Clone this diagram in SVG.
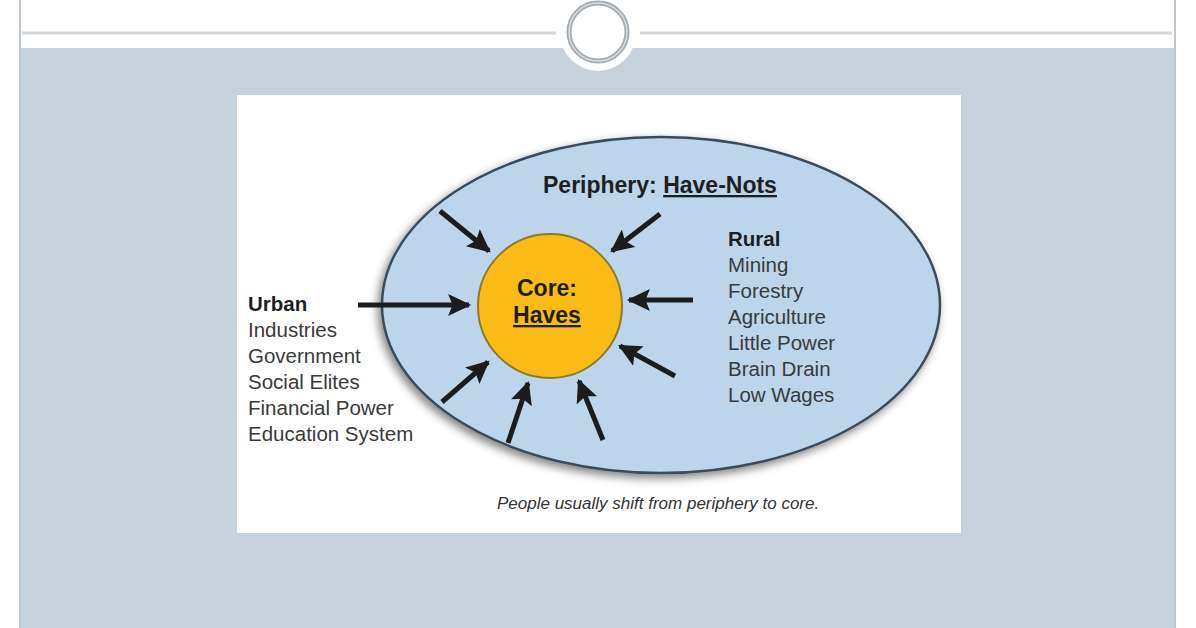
<svg xmlns="http://www.w3.org/2000/svg" width="1196" height="628" viewBox="0 0 1196 628">
<defs>
<style>
.t{font-family:"Liberation Sans","Open Sans",Arial,sans-serif;fill:#3a3a3a;font-size:20.5px}
.b{font-weight:bold;fill:#1f1f1f}
.big{font-size:23px}
.cap{font-size:17px;font-style:italic;fill:#333333}
.arr{stroke:#1c1c1c;stroke-width:5;fill:none;marker-end:url(#ah)}
</style>
<marker id="ah" markerUnits="userSpaceOnUse" markerWidth="24" markerHeight="22" refX="19" refY="10" orient="auto" viewBox="0 0 21 20">
<path d="M0,0 L21,10 L0,20 L4,10 Z" fill="#1c1c1c"/>
</marker>
<filter id="sh" x="-10%" y="-10%" width="120%" height="125%">
<feGaussianBlur in="SourceAlpha" stdDeviation="5"/>
<feOffset dx="-3" dy="4"/>
<feComponentTransfer><feFuncA type="linear" slope="0.5"/></feComponentTransfer>
<feMerge><feMergeNode/><feMergeNode in="SourceGraphic"/></feMerge>
</filter>
</defs>
<rect width="1196" height="628" fill="#ffffff"/>
<g id="frame">
<rect x="20" y="48" width="1155" height="580" fill="#c6d1db"/>
<line x1="20" y1="0" x2="20" y2="628" stroke="#bfc7cd" stroke-width="2"/>
<line x1="1175" y1="0" x2="1175" y2="628" stroke="#bfc7cd" stroke-width="2"/>
<line x1="22" y1="33" x2="556" y2="33" stroke="#d2d9de" stroke-width="3"/>
<line x1="640" y1="33" x2="1172" y2="33" stroke="#d2d9de" stroke-width="3"/>
<circle cx="598" cy="33" r="38" fill="#ffffff"/>
<circle cx="598" cy="32" r="29" fill="none" stroke="#a3abb0" stroke-width="5"/>
<circle cx="598" cy="32" r="29" fill="none" stroke="#d8dde0" stroke-width="1.5"/>
</g>
<rect id="card" x="237" y="95" width="724" height="438" fill="#ffffff"/>
<g id="periphery">
<ellipse cx="661" cy="305" rx="279" ry="168" fill="#bcd5ea" stroke="#3b4b5b" stroke-width="2.5" filter="url(#sh)"/>
<text class="t b big" x="543" y="193">Periphery: <tspan text-decoration="underline">Have-Nots</tspan></text>
</g>
<g id="core">
<circle cx="550" cy="306" r="72" fill="#fbbb16" stroke="#8b7a2e" stroke-width="2"/>
<text class="t b big" x="547" y="296" text-anchor="middle">Core:</text>
<text class="t b big" x="547" y="323" text-anchor="middle" text-decoration="underline">Haves</text>
</g>
<g id="rural">
<text class="t b" x="728" y="246">Rural</text>
<text class="t" x="728" y="272">Mining</text>
<text class="t" x="728" y="298">Forestry</text>
<text class="t" x="728" y="324">Agriculture</text>
<text class="t" x="728" y="350">Little Power</text>
<text class="t" x="728" y="376">Brain Drain</text>
<text class="t" x="728" y="402">Low Wages</text>
</g>
<g id="urban">
<text class="t b" x="248" y="311">Urban</text>
<text class="t" x="248" y="337">Industries</text>
<text class="t" x="248" y="363">Government</text>
<text class="t" x="248" y="389">Social Elites</text>
<text class="t" x="248" y="415">Financial Power</text>
<text class="t" x="248" y="441">Education System</text>
</g>
<g id="connectors">
<line class="arr" x1="440" y1="211" x2="489" y2="251"/>
<line class="arr" x1="660" y1="214" x2="612" y2="251"/>
<line class="arr" x1="358" y1="305" x2="469" y2="305"/>
<line class="arr" x1="693" y1="300" x2="629" y2="300"/>
<line class="arr" x1="675" y1="376" x2="620" y2="346"/>
<line class="arr" x1="442" y1="402" x2="488" y2="362"/>
<line class="arr" x1="508" y1="443" x2="528" y2="383"/>
<line class="arr" x1="603" y1="440" x2="579" y2="381"/>
</g>
<text id="caption" class="t cap" x="497" y="509">People usually shift from periphery to core.</text>
</svg>
